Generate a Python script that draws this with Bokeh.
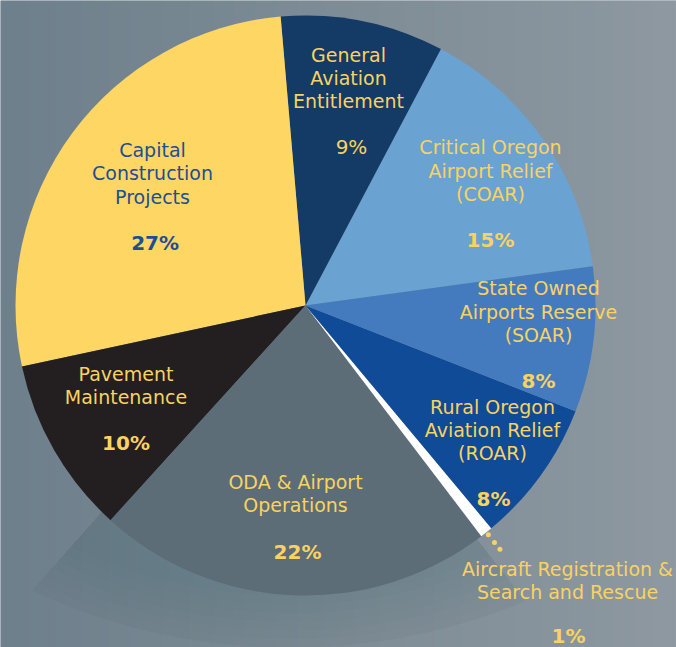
import numpy as np
from bokeh.plotting import figure
from bokeh.models import Range1d, ColumnDataSource
from bokeh.core.properties import value
from bokeh.embed import file_html
from bokeh.resources import INLINE

# ---------------- data ----------------
categories = [
    "Critical Oregon Airport Relief (COAR)",
    "General Aviation Entitlement",
    "Capital Construction Projects",
    "Pavement Maintenance",
    "ODA & Airport Operations",
    "Aircraft Registration & Search and Rescue",
    "Rural Oregon Aviation Relief (ROAR)",
    "State Owned Airports Reserve (SOAR)",
]
shares = [15.1, 9.1, 27.0, 9.9, 22.1, 0.7, 8.0, 8.1]
label_lines = [
    ["Critical Oregon", "Airport Relief", "(COAR)"],
    ["General", "Aviation", "Entitlement"],
    ["Capital", "Construction", "Projects"],
    ["Pavement", "Maintenance"],
    ["ODA & Airport", "Operations"],
    ["Aircraft Registration &", "Search and Rescue"],
    ["Rural Oregon", "Aviation Relief", "(ROAR)"],
    ["State Owned", "Airports Reserve", "(SOAR)"],
]
pct_labels = ["15%", "9%", "27%", "10%", "22%", "1%", "8%", "8%"]

# ---------------- styles / layout ----------------
colors = ["#6AA2D1", "#143A66", "#FDD664", "#231F20", "#5C6D77", "#FFFFFF", "#0F4B96", "#447BBF"]
YELLOW = "#F9D262"
BLUE_TXT = "#1D4E94"
text_colors = [YELLOW, YELLOW, BLUE_TXT, YELLOW, YELLOW, YELLOW, YELLOW, YELLOW]
pct_bold = [True, False, True, True, True, True, True, True]
FONT = "DejaVu Sans"

W, H = 676, 647
CX, CY_PIX, R = 305, 305, 290
START_DEG = 7.8
LINE_H = 23.3
TEXT_DY = -8  # compensates the renderer's baseline offset
# label block anchors in pixel coordinates: (x, first baseline, pct x, pct baseline)
label_pos = [
    (490, 154.7, 490, 247.6),
    (348, 62.0, 351, 154.0),
    (152, 157.6, 154.6, 250.0),
    (125.5, 381.0, 125.5, 450.7),
    (295, 489.0, 297, 559.0),
    (567, 576.5, 568, 643.0),
    (492, 414.0, 493, 506.0),
    (538, 295.7, 538, 388.3),
]

def Y(ypix):
    return H - ypix

p = figure(width=W, height=H, output_backend="svg", toolbar_location=None,
           x_range=Range1d(0, W), y_range=Range1d(0, H),
           x_axis_type=None, y_axis_type=None)
p.min_border = 0
p.outline_line_color = None
p.grid.visible = False
p.background_fill_color = "#7A8B96"
p.border_fill_color = "#7A8B96"

# background gradient
N = 200
img = np.empty((1, N), dtype=np.uint32)
view = img.view(dtype=np.uint8).reshape((1, N, 4))
left = np.array([110, 128, 140])
right = np.array([142, 153, 161])
t = np.linspace(0, 1, N)
for c in range(3):
    view[0, :, c] = (left[c] + (right[c] - left[c]) * t).astype(np.uint8)
view[0, :, 3] = 255
p.image_rgba(image=[img], x=0, y=0, dw=W, dh=H)

# soft elliptical shadow under the pie (decoration)
SH_CX, SH_CY, SH_A, SH_B = 290, 300, 469, 347
th = np.deg2rad(np.linspace(60, 123.4, 80))
for s, a in [(1.0, 0.07)] + [(1.0 - 0.025 * k, 0.018) for k in range(1, 7)]:
    xs = np.concatenate([[SH_CX], SH_CX + s * SH_A * np.cos(th)])
    ys = np.concatenate([[Y(SH_CY)], Y(SH_CY + s * SH_B * np.sin(th))])
    p.patch(xs, ys, fill_color="#4c5054", fill_alpha=a, line_color=None)

# pie wedges
vals = np.array(shares, dtype=float)
fr = vals / vals.sum()
cum = np.concatenate([[0], np.cumsum(fr)])
start = np.deg2rad(START_DEG) + 2 * np.pi * cum[:-1]
end = np.deg2rad(START_DEG) + 2 * np.pi * cum[1:]
src = ColumnDataSource(dict(cat=categories, share=shares, start=start, end=end, color=colors,
                            x=[CX] * len(shares), y=[Y(CY_PIX)] * len(shares)))
p.wedge(x="x", y="y", radius=R, start_angle="start", end_angle="end",
        fill_color="color", line_color=None, source=src)

# leader dots for the small slice
mid = (start[5] + end[5]) / 2
dot_r = np.array([1.011, 1.045, 1.075]) * R
p.scatter(x=CX + dot_r * np.cos(mid), y=Y(CY_PIX) + dot_r * np.sin(mid), size=5,
          fill_color=YELLOW, line_color=None)

# labels
lx, ly, lt, lc = [], [], [], []
for lines, pos, col in zip(label_lines, label_pos, text_colors):
    for i, ln in enumerate(lines):
        lx.append(pos[0])
        ly.append(Y(pos[1] + i * LINE_H + TEXT_DY))
        lt.append(ln)
        lc.append(col)
p.text(x="x", y="y", text="t", text_color="c", source=ColumnDataSource(dict(x=lx, y=ly, t=lt, c=lc)),
       text_font=value(FONT), text_font_size="19px", text_align="center", text_baseline="alphabetic")

for bold in (True, False):
    px = [pos[2] for pos, b in zip(label_pos, pct_bold) if b == bold]
    py = [Y(pos[3] + TEXT_DY) for pos, b in zip(label_pos, pct_bold) if b == bold]
    pt = [s for s, b in zip(pct_labels, pct_bold) if b == bold]
    pc = [c for c, b in zip(text_colors, pct_bold) if b == bold]
    p.text(x="x", y="y", text="t", text_color="c", source=ColumnDataSource(dict(x=px, y=py, t=pt, c=pc)),
           text_font=value(FONT), text_font_size="20px", text_font_style="bold" if bold else "normal",
           text_align="center", text_baseline="alphabetic")

open("out.html", "w").write(file_html(p, INLINE))
